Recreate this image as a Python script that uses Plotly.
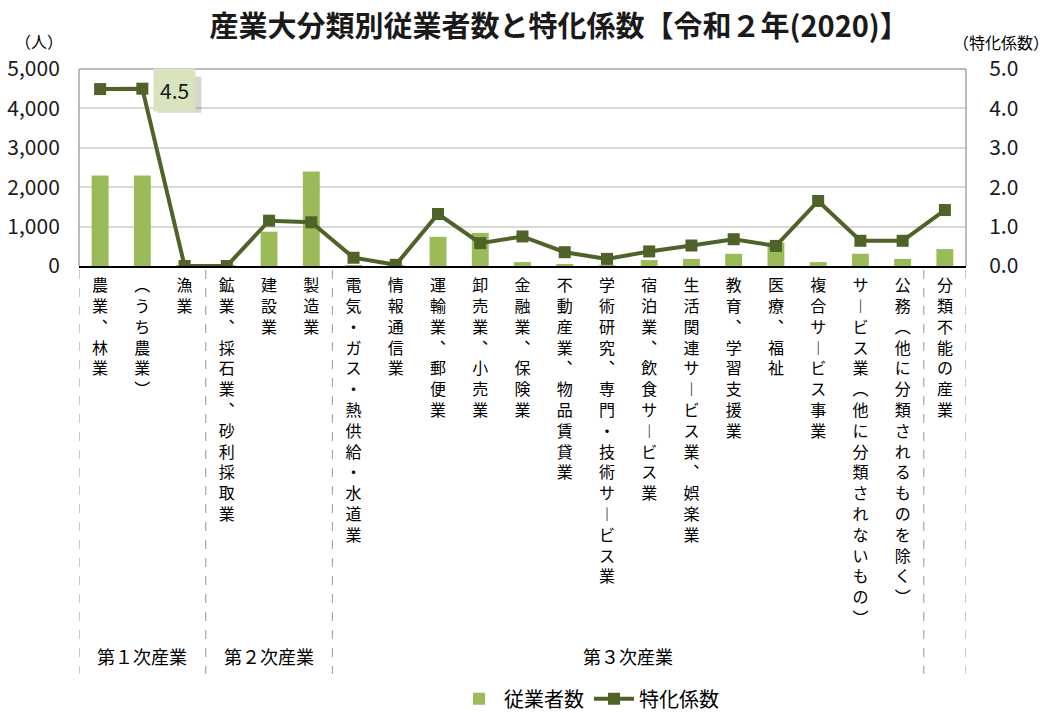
import plotly.graph_objects as go

# ---------------- data ----------------
categories = [
    "農業、林業", "(うち農業)", "漁業", "鉱業、採石業、砂利採取業", "建設業", "製造業",
    "電気・ガス・熱供給・水道業", "情報通信業", "運輸業、郵便業", "卸売業、小売業",
    "金融業、保険業", "不動産業、物品賃貸業", "学術研究、専門・技術サービス業",
    "宿泊業、飲食サービス業", "生活関連サービス業、娯楽業", "教育、学習支援業",
    "医療、福祉", "複合サービス事業", "サービス業（他に分類されないもの）",
    "公務（他に分類されるものを除く）", "分類不能の産業",
]
employees = [2300, 2300, 5, 3, 870, 2400, 10, 20, 740, 840, 100, 30, 25,
             150, 180, 310, 600, 100, 310, 180, 430]
coefficient = [4.49, 4.50, 0.0, 0.0, 1.15, 1.11, 0.21, 0.03, 1.32, 0.58, 0.75,
               0.35, 0.18, 0.37, 0.52, 0.68, 0.51, 1.65, 0.64, 0.64, 1.42]
groups = ["第１次産業", "第２次産業", "第３次産業"]
group_ranges = [(0, 2), (3, 5), (6, 19)]
separators = [-0.5, 2.5, 5.5, 19.5, 20.5]
highlight_index = 1

title = "産業大分類別従業者数と特化係数【令和２年(2020)】"
bar_name = "従業者数"
line_name = "特化係数"

BAR_COLOR = "#9BBB59"
LINE_COLOR = "#4F6228"
FONT = "Noto Sans CJK JP"

vertical_map = {"、": "︑", "（": "︵", "）": "︶", "(": "︵", ")": "︶", "ー": "︱"}


def vertical(s):
    return "<br>".join(vertical_map.get(c, c) for c in s)


x_idx = list(range(len(categories)))

fig = go.Figure()
fig.add_trace(go.Bar(
    x=x_idx, y=employees, name=bar_name, marker=dict(color=BAR_COLOR, line=dict(width=0)),
    yaxis="y",
))
fig.add_trace(go.Scatter(
    x=x_idx, y=coefficient, name=line_name, mode="lines+markers",
    line=dict(color=LINE_COLOR, width=4),
    marker=dict(symbol="square", size=12, color=LINE_COLOR),
    yaxis="y2",
))

shapes = []
# plot frame (left, top, right) in gray
for (x0, y0, x1, y1) in [(0, 0, 0, 1), (0, 1, 1, 1), (1, 0, 1, 1)]:
    shapes.append(dict(type="line", xref="paper", yref="paper", x0=x0, y0=y0, x1=x1, y1=y1,
                       line=dict(color="#A6A6A6", width=1.5), layer="above"))
# dashed group separators
for s in separators:
    shapes.append(dict(type="line", xref="x", yref="paper", x0=s, x1=s, y0=-0.02, y1=-2.07,
                       line=dict(color="#A6A6A6", width=1.2, dash="dash")))
# soft drop shadow behind the callout box (pixel-sized, anchored at the highlighted point)
shapes.append(dict(type="rect", xref="x", yref="y2", xsizemode="pixel", ysizemode="pixel",
                   xanchor=highlight_index, yanchor=coefficient[highlight_index],
                   x0=15, x1=59, y0=-24, y1=12, fillcolor="rgba(0,0,0,0.16)",
                   line=dict(width=0), layer="above"))

annotations = []
for g, (a, b) in zip(groups, group_ranges):
    annotations.append(dict(text=g, x=(a + b) / 2, xref="x", y=-1.98, yref="paper",
                            showarrow=False, font=dict(size=18, color="#000", family=FONT),
                            xanchor="center", yanchor="middle"))
annotations.append(dict(text="（人）", xref="paper", yref="paper", x=-0.045, y=1.14,
                        showarrow=False, font=dict(size=16, color="#000", family=FONT),
                        xanchor="center", yanchor="middle"))
annotations.append(dict(text="（特化係数）", xref="paper", yref="paper", x=1.039, y=1.135,
                        showarrow=False, font=dict(size=16, color="#000", family=FONT),
                        xanchor="center", yanchor="middle"))
# callout for the highlighted value
label = f"{coefficient[highlight_index]:.1f}"
annotations.append(dict(text=label, x=highlight_index, y=coefficient[highlight_index],
                        xref="x", yref="y2", showarrow=False, xanchor="left", yanchor="middle",
                        xshift=11, yshift=-1, font=dict(size=21, color="#1a1a1a", family=FONT),
                        bgcolor="#D7E4BD", borderpad=6))

fig.update_layout(
    width=1055, height=713,
    margin=dict(l=79, r=89, t=69, b=447, autoexpand=False),
    paper_bgcolor="white", plot_bgcolor="white",
    font=dict(family=FONT, color="#000"),
    title=dict(text=f"<b>{title}</b>", x=0.53, xanchor="center", y=0.962, yanchor="middle",
               font=dict(size=29, color="#1a1a1a", family=FONT)),
    bargap=0.6,
    showlegend=True,
    legend=dict(orientation="h", x=0.575, xanchor="center", yref="container", y=0.02,
                yanchor="middle", font=dict(size=20, family=FONT), itemwidth=40,
                traceorder="normal"),
    xaxis=dict(
        tickmode="array", tickvals=x_idx, ticktext=[vertical(c) for c in categories],
        range=[-0.5, len(categories) - 0.5], showgrid=False,
        showline=True, linecolor="#000", linewidth=2, ticks="",
        ticklabelstandoff=4,
        tickfont=dict(size=16, family=FONT, color="#000"), tickangle=0,
        automargin=False, fixedrange=True,
    ),
    yaxis=dict(
        range=[0, 5000], dtick=1000, tickformat=",", showgrid=True, gridcolor="#D9D9D9",
        gridwidth=1.5, zeroline=False, ticks="outside", ticklen=14,
        tickcolor="rgba(0,0,0,0)", tickfont=dict(size=21, family=FONT, color="#1a1a1a"),
        automargin=False, fixedrange=True,
    ),
    yaxis2=dict(
        range=[0, 5], dtick=1, tickformat=".1f", overlaying="y", side="right",
        showgrid=False, zeroline=False, ticks="outside", ticklen=18,
        tickcolor="rgba(0,0,0,0)", tickfont=dict(size=21, family=FONT, color="#1a1a1a"),
        automargin=False, fixedrange=True,
    ),
    shapes=shapes,
    annotations=annotations,
)

fig.write_html("out.html", config={"displayModeBar": False},
               post_script="document.body.style.margin='0';")
